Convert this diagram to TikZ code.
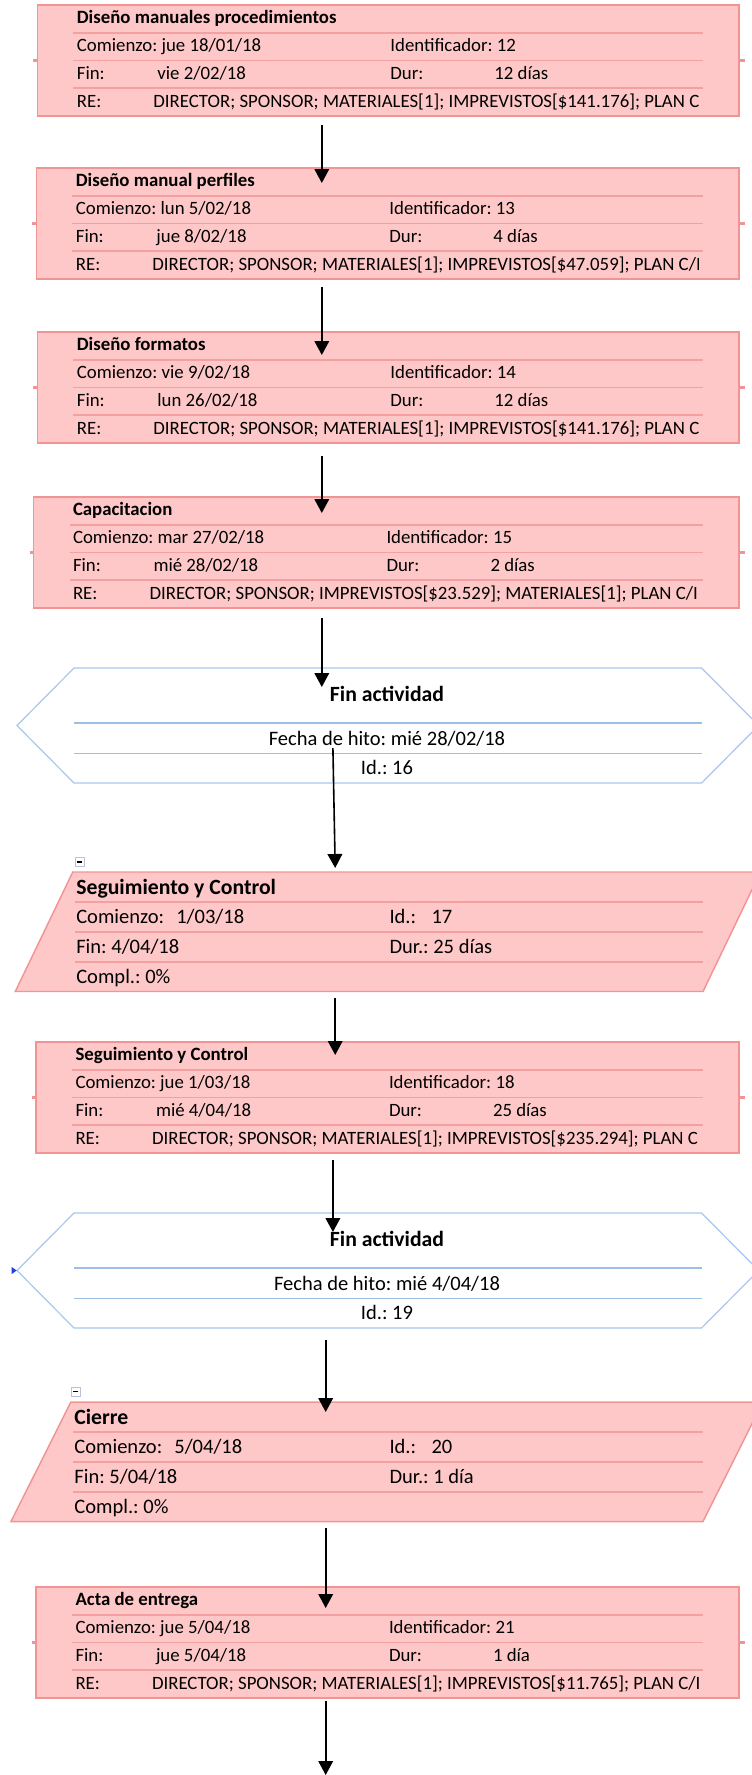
\documentclass[tikz,border=0pt]{standalone}
\usepackage{fontspec}
\setmainfont{Carlito}
\usetikzlibrary{arrows.meta,calc}
\frenchspacing

\definecolor{taskfill}{HTML}{FFC8C8}
\definecolor{taskline}{HTML}{F39494}
\definecolor{tasksepc}{HTML}{F4A0A0}
\definecolor{mileline}{HTML}{A9C7EE}
\definecolor{milesep}{HTML}{9CBEE9}
\definecolor{markblue}{HTML}{1F3FE0}
\definecolor{markgray}{HTML}{B8C4D6}

\tikzset{
  taskframe/.style={rectangle, draw=taskline, fill=taskfill, line width=1.1pt, inner sep=0pt, outer sep=0pt},
  tasksep/.style={draw=tasksepc, line width=1.1pt},
  mileframe/.style={draw=mileline, line width=0.9pt},
  milesepline/.style={draw=milesep, line width=1.1pt},
  stub/.style={draw=taskline, line width=2pt},
  txt/.style={inner sep=0pt, outer sep=0pt, font=\fontsize{14.1}{16}\selectfont, text=black},
  bigtxt/.style={inner sep=0pt, outer sep=0pt, font=\fontsize{15.4}{18}\selectfont, text=black},
  bigtitle/.style={inner sep=0pt, outer sep=0pt, font=\fontsize{16.3}{19}\selectfont\bfseries, text=black},
  flow/.style={draw=black, line width=1.2pt, -{Triangle[width=11pt,length=10.5pt]}},
  collapsebox/.style={rectangle, draw=markgray, fill=white, line width=0.6pt, minimum size=6.8pt, inner sep=0pt},
}

% task box: #1 name, #2 left x, #3 top y, #4 title, #5 start, #6 id, #7 finish, #8 duration, #9 resources
\newcommand\taskbox[9]{%
  \node[taskframe, anchor=north west, minimum width={(739-#2)*0.75pt}, minimum height=83.25pt] (#1) at (#2,#3) {};
  \draw[stub] ([xshift=-3pt]#1.west) -- (#1.west);
  \draw[stub] (#1.east) -- ([xshift=4.5pt]#1.east);
  \foreach \o in {28,55.5,83}
    \draw[tasksep] ([shift={(36,\o)}]#1.north west) -- ([shift={(-36.4,\o)}]#1.north east);
  \node[txt, anchor=base west, font=\fontsize{14.1}{16}\selectfont\bfseries] (#1-t) at ([shift={(39.5,18.5)}]#1.north west) {#4};
  \node[txt, anchor=base west] (#1-c) at ([shift={(39.5,46.5)}]#1.north west) {Comienzo: #5};
  \node[txt, anchor=base west] (#1-i) at ([shift={(353,46.5)}]#1.north west) {Identificador: #6};
  \node[txt, anchor=base west] (#1-f) at ([shift={(39.5,74.5)}]#1.north west) {Fin:};
  \node[txt, anchor=base west] (#1-fv) at ([shift={(120,74.5)}]#1.north west) {#7};
  \node[txt, anchor=base west] (#1-d) at ([shift={(353,74.5)}]#1.north west) {Dur:};
  \node[txt, anchor=base west] (#1-dv) at ([shift={(457,74.5)}]#1.north west) {#8};
  \node[txt, anchor=base west] (#1-r) at ([shift={(39.5,102)}]#1.north west) {RE:};
  \begin{scope}
    \clip (#2,#3) rectangle (698.5,{#3+111});
    \node[txt, anchor=base west] (#1-rv) at ([shift={(116,102)}]#1.north west) {#9};
  \end{scope}
}

% milestone hexagon: #1 name, #2 top y, #3 date, #4 id
\newcommand\milestone[4]{%
  \draw[mileframe, fill=white] (17,{#2+57.5}) -- (74,#2) -- (701.6,#2) -- (758.6,{#2+57.5})
      -- (701.6,{#2+115}) -- (74,{#2+115}) -- cycle;
  \draw[milesepline] (74,{#2+55}) -- (701.6,{#2+55});
  \draw[milesepline] (74,{#2+85.5}) -- (701.6,{#2+85.5});
  \node[bigtitle, anchor=base] (#1-t) at (387,{#2+33}) {Fin actividad};
  \node[bigtxt, anchor=base] (#1-f) at (387,{#2+77.5}) {Fecha de hito: #3};
  \node[bigtxt, anchor=base] (#1-i) at (387,{#2+106}) {Id.: #4};
}

% summary parallelogram: #1 name, #2 top y, #3 top-left x, #4 bottom-left x, #5 title, #6 start, #7 id, #8 finish, #9 duration
\newcommand\summarytask[9]{%
  \draw[draw=taskline, fill=taskfill, line width=1.1pt] (#3,#2) -- ({703+#3-#4},#2)
      -- (703,{#2+119.5}) -- (#4,{#2+119.5}) -- cycle;
  \foreach \o in {30,60,90}
    \draw[tasksep] ({#3+2},{#2+\o}) -- (703,{#2+\o});
  \node[bigtitle, anchor=base west] (#1-t) at ({#3+3.5},{#2+22.5}) {#5};
  \node[bigtxt, anchor=base west] (#1-c) at ({#3+3.5},{#2+51.5}) {Comienzo:};
  \node[bigtxt, anchor=base west] (#1-cv) at ({#3+103.5},{#2+51.5}) {#6};
  \node[bigtxt, anchor=base west] (#1-i) at (389.5,{#2+51.5}) {Id.:};
  \node[bigtxt, anchor=base west] (#1-iv) at (431.5,{#2+51.5}) {#7};
  \node[bigtxt, anchor=base west] (#1-f) at ({#3+3.5},{#2+81.5}) {Fin: #8};
  \node[bigtxt, anchor=base west] (#1-d) at (389.5,{#2+81.5}) {Dur.: #9};
  \node[bigtxt, anchor=base west] (#1-p) at ({#3+3.5},{#2+111.5}) {Compl.: 0\%};
}

\begin{document}
\begin{tikzpicture}[x=0.75pt,y=-0.75pt]
  \useasboundingbox[fill=white] (0,0) rectangle (751,1775);

  \taskbox{b1}{37.4}{5}{Diseño manuales procedimientos}{jue 18/01/18}{12}{vie 2/02/18}{12 días}%
    {DIRECTOR; SPONSOR; MATERIALES[1]; IMPREVISTOS[\$141.176]; PLAN C}
  \taskbox{b2}{36.4}{168}{Diseño manual perfiles}{lun 5/02/18}{13}{jue 8/02/18}{4 días}%
    {DIRECTOR; SPONSOR; MATERIALES[1]; IMPREVISTOS[\$47.059]; PLAN C/I}
  \taskbox{b3}{37.4}{332}{Diseño formatos}{vie 9/02/18}{14}{lun 26/02/18}{12 días}%
    {DIRECTOR; SPONSOR; MATERIALES[1]; IMPREVISTOS[\$141.176]; PLAN C}
  \taskbox{b4}{33.5}{497}{Capacitacion}{mar 27/02/18}{15}{mié 28/02/18}{2 días}%
    {DIRECTOR; SPONSOR; IMPREVISTOS[\$23.529]; MATERIALES[1]; PLAN C/I}

  \milestone{m1}{668}{mié 28/02/18}{16}

  \node[collapsebox] (k1) at (79.5,862) {};
  \draw[line width=1.1pt] ([xshift=-2pt]k1.center) -- ([xshift=2pt]k1.center);
  \summarytask{s1}{872}{72.8}{15.3}{Seguimiento y Control}{1/03/18}{17}{4/04/18}{25 días}

  \taskbox{b5}{36}{1042}{Seguimiento y Control}{jue 1/03/18}{18}{mié 4/04/18}{25 días}%
    {DIRECTOR; SPONSOR; MATERIALES[1]; IMPREVISTOS[\$235.294]; PLAN C}

  \milestone{m2}{1213}{mié 4/04/18}{19}
  \coordinate (tipm) at (16.7,1270.5);
  \fill[markblue] (tipm) -- ++(-5,-3.5) -- ++(0,7) -- cycle;

  \node[collapsebox] (k2) at (75.7,1391.5) {};
  \draw[line width=1.1pt] ([xshift=-2pt]k2.center) -- ([xshift=2pt]k2.center);
  \summarytask{s2}{1402}{70.9}{11}{Cierre}{5/04/18}{20}{5/04/18}{1 día}

  \taskbox{b6}{36}{1587}{Acta de entrega}{jue 5/04/18}{21}{jue 5/04/18}{1 día}%
    {DIRECTOR; SPONSOR; MATERIALES[1]; IMPREVISTOS[\$11.765]; PLAN C/I}

  % connector ends
  \coordinate (a1s) at (321.8,125);  \coordinate (a1e) at (321.8,183);
  \coordinate (a2s) at (321.8,287);  \coordinate (a2e) at (321.8,355);
  \coordinate (a3s) at (321.8,456);  \coordinate (a3e) at (321.8,513);
  \coordinate (a4s) at (321.8,618);  \coordinate (a4e) at (321.8,687);
  \coordinate (a5s) at (332.9,748);  \coordinate (a5e) at (335.2,868);
  \coordinate (a6s) at (335.2,998);  \coordinate (a6e) at (335.2,1055);
  \coordinate (a7s) at (332.9,1160); \coordinate (a7e) at (332.9,1232);
  \coordinate (a8s) at (325.7,1340); \coordinate (a8e) at (325.7,1412);
  \coordinate (a9s) at (325.7,1528); \coordinate (a9e) at (325.7,1608);
  \coordinate (a10s) at (325.7,1701); \coordinate (a10e) at (325.7,1775);

  \foreach \n in {1,...,10}
    \draw[flow] (a\n s) -- (a\n e);
\end{tikzpicture}
\end{document}
